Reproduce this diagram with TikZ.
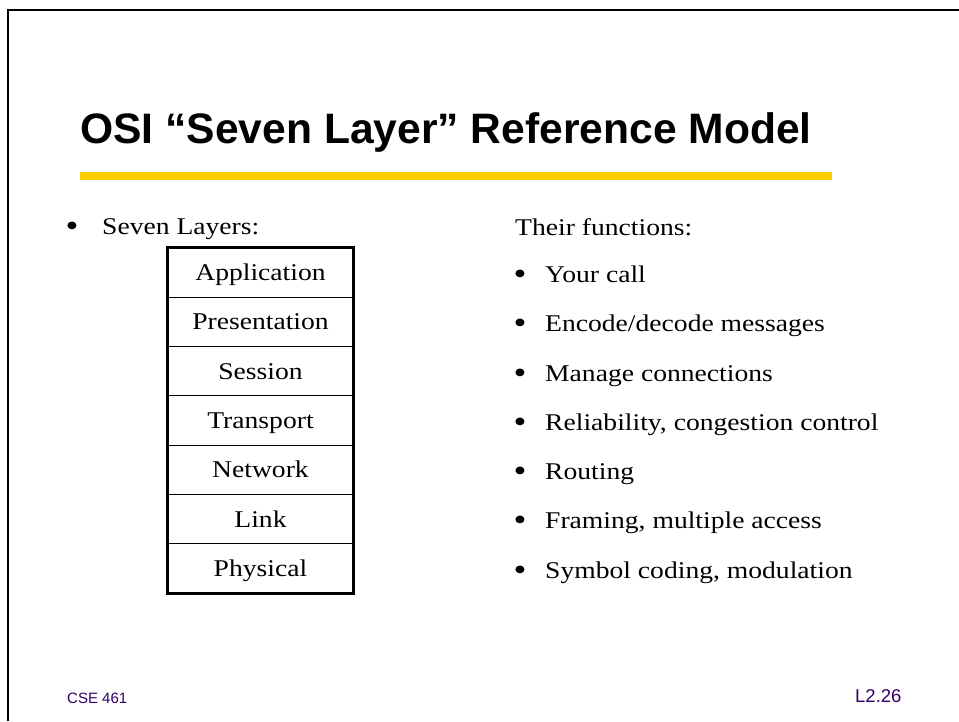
\documentclass[tikz,border=0pt]{standalone}
\usepackage{fontspec}
\setmainfont{Liberation Serif}[FakeStretch=1.15]
\newfontfamily\titlefont{Liberation Sans}
\definecolor{barcol}{RGB}{255,204,0}
\definecolor{footcol}{RGB}{51,0,102}
\begin{document}
\begin{tikzpicture}[x=1pt,y=-1pt,
  body/.style={font=\fontsize{24}{28}\selectfont, inner sep=0pt},
  bul/.style={font=\fontsize{32}{36}\selectfont, inner sep=0pt, anchor=base},
  layer/.style={draw, line width=1pt, minimum width=185pt, minimum height=49.29pt,
    inner sep=0pt, text height=16pt, text depth=0pt, font=\fontsize{24}{28}\selectfont},
  foot/.style={inner sep=0pt, text=footcol, anchor=base west}]
\useasboundingbox (0,0) rectangle (959,721);
\fill[white] (0,0) rectangle (959,721);
\draw[line width=2.5pt] (8,721) -- (8,10) -- (959,10);
% title
\node[anchor=base west, inner sep=0pt, font=\titlefont\bfseries\fontsize{42.6}{48}\selectfont] (title) at (80,143) {OSI “Seven Layer” Reference Model};
\fill[barcol] (80,172) rectangle (832,180);
% left
\node[bul] (lb) at (72,236) {•};
\node[body, anchor=base west] (lh) at (102,234) {Seven Layers:};
\foreach \t [count=\i] in {Application,Presentation,Session,Transport,Network,Link,Physical}
  \node[layer] (r\i) at (260.5,{248+49.29*(\i-0.5)}) {\t};
\draw[line width=2.5pt] (r1.north west) rectangle (r7.south east);
% right
\node[body, anchor=base west] (rh) at (515,235) {Their functions:};
\foreach \t [count=\i] in {{Your call},{Encode/decode messages},{Manage connections},{Reliability, congestion control},{Routing},{Framing, multiple access},{Symbol coding, modulation}}{
  \node[bul] (fb\i) at (520,{284.5+49.29*(\i-1)}) {•};
  \node[body, anchor=base west] (f\i) at (545,{282.5+49.29*(\i-1)}) {\t};
}
% footer
\node[foot, font=\titlefont\fontsize{15}{18}\selectfont] (cse) at (67,703) {CSE 461};
\node[foot, font=\titlefont\fontsize{18.5}{22}\selectfont] (pg) at (855,702) {L2.26};
\end{tikzpicture}
\end{document}
